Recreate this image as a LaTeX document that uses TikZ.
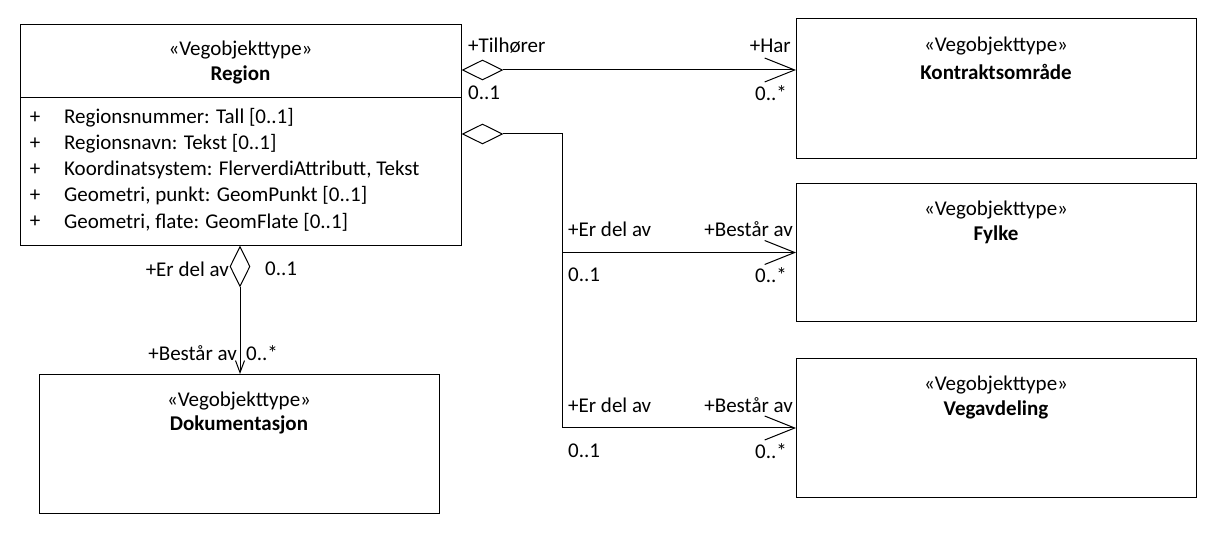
\documentclass[tikz,border=0pt]{standalone}
\usepackage{fontspec}
\setmainfont{Carlito}
\usetikzlibrary{arrows.meta,shapes.geometric}

\tikzset{
	classbox/.style={draw, line width=1pt, rectangle, inner sep=0pt, anchor=north west},
	agg/.style={draw, diamond, fill=white, line width=1pt, inner sep=0pt},
	assoc/.style={line width=1pt, -{Straight Barb[length=30pt,width=24pt]}},
	assocsmall/.style={line width=1pt, -{Straight Barb[length=12pt,width=9pt]}},
	txt/.style={inner sep=0pt, font=\fontsize{21}{26}\selectfont},
}

\begin{document}
\begin{tikzpicture}[x=1pt, y=-1pt]
	\useasboundingbox (0,0) rectangle (1216,534);

	% classes
	\node[classbox, minimum width=441pt, minimum height=221pt] (region) at (20,24) {};
	\node[classbox, minimum width=400pt, minimum height=140pt] (kontrakt) at (796,18) {};
	\node[classbox, minimum width=400pt, minimum height=138pt] (fylke) at (796,183) {};
	\node[classbox, minimum width=400pt, minimum height=139pt] (vegavd) at (796,358) {};
	\node[classbox, minimum width=400pt, minimum height=139pt] (dok) at (39,374) {};

	\node[txt] (region-st) at (240.5,50) {«Vegobjekttype»};
	\node[txt] (region-nm) at (240.5,75) {\textbf{Region}};
	\node[txt] (kontrakt-st) at (996,46) {«Vegobjekttype»};
	\node[txt] (kontrakt-nm) at (996,72) {\textbf{Kontraktsområde}};
	\node[txt] (fylke-st) at (996,210) {«Vegobjekttype»};
	\node[txt] (fylke-nm) at (996,235) {\textbf{Fylke}};
	\node[txt] (vegavd-st) at (996,385) {«Vegobjekttype»};
	\node[txt] (vegavd-nm) at (996,410) {\textbf{Vegavdeling}};
	\node[txt] (dok-st) at (239,401) {«Vegobjekttype»};
	\node[txt] (dok-nm) at (239,425) {\textbf{Dokumentasjon}};

	% attributes of Region
	\coordinate (div-l) at (20,98);
	\coordinate (div-r) at (461,98);
	\draw[line width=1pt] (div-l) -- (div-r);

	\node[txt] (p1) at (35,118) {+};
	\node[txt] (p2) at (35,144) {+};
	\node[txt] (p3) at (35,170) {+};
	\node[txt] (p4) at (35,196) {+};
	\node[txt] (p5) at (35,222) {+};
	\node[txt, anchor=west] (a1) at (64,118) {Regionsnummer: Tall [0..1]};
	\node[txt, anchor=west] (a2) at (64,144) {Regionsnavn: Tekst [0..1]};
	\node[txt, anchor=west] (a3) at (64,170) {Koordinatsystem: FlerverdiAttributt, Tekst};
	\node[txt, anchor=west] (a4) at (64,196) {Geometri, punkt: GeomPunkt [0..1]};
	\node[txt, anchor=west] (a5) at (64,222) {Geometri, flate: GeomFlate [0..1]};

	% aggregations
	\node[agg, aspect=2, minimum width=40pt, minimum height=20pt, anchor=west] (agg-k) at (462,70) {};
	\node[agg, aspect=2, minimum width=40pt, minimum height=20pt, anchor=west] (agg-fv) at (462,134) {};
	\node[agg, aspect=0.5, minimum width=20pt, minimum height=40pt, anchor=north] (agg-d) at (240,246) {};
	\coordinate (bend) at (562,134);

	\draw[assoc] (agg-k.east) -- (agg-k.east -| kontrakt.west);
	\draw[assoc] (agg-fv.east) -- (bend) |- (fylke.west);
	\draw[assoc] (bend) |- (vegavd.west);
	\draw[assocsmall] (agg-d.south) -- (agg-d.south |- dok.north);

	% roles and multiplicities
	\node[txt, anchor=west] (k-role1) at (468,46) {+Tilhører};
	\node[txt, anchor=west] (k-mult1) at (468,93) {0..1};
	\node[txt, anchor=east] (k-role2) at (791,46) {+Har};
	\node[txt, anchor=east] (k-mult2) at (787,93) {0..*};

	\node[txt, anchor=west] (f-role1) at (568,229) {+Er del av};
	\node[txt, anchor=west] (f-mult1) at (568,275) {0..1};
	\node[txt, anchor=east] (f-role2) at (793,229) {+Består av};
	\node[txt, anchor=east] (f-mult2) at (787,275) {0..*};

	\node[txt, anchor=west] (v-role1) at (568,405) {+Er del av};
	\node[txt, anchor=west] (v-mult1) at (568,451) {0..1};
	\node[txt, anchor=east] (v-role2) at (793,405) {+Består av};
	\node[txt, anchor=east] (v-mult2) at (787,451) {0..*};

	\node[txt, anchor=east] (d-role1) at (229,269) {+Er del av};
	\node[txt, anchor=west] (d-mult1) at (265,269) {0..1};
	\node[txt, anchor=east] (d-role2) at (237,353) {+Består av};
	\node[txt, anchor=west] (d-mult2) at (246,353) {0..*};
\end{tikzpicture}
\end{document}
